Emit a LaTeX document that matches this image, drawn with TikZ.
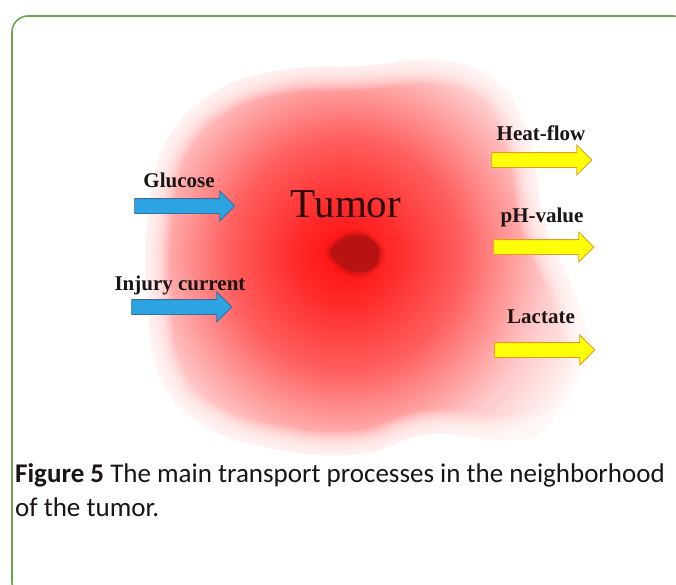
\documentclass[tikz,border=0pt]{standalone}
\usepackage{fontspec}
\setmainfont{Liberation Serif}
\newfontfamily\capfont{Carlito}
\usetikzlibrary{positioning,shapes.arrows}
\definecolor{frame}{HTML}{6BA547}
\definecolor{ink}{HTML}{1A1414}
\definecolor{tumink}{HTML}{2A0808}
\definecolor{bluefill}{HTML}{2CA4E2}
\definecolor{blueedge}{HTML}{3B6C9E}
\definecolor{yelfill}{HTML}{FFFF08}
\definecolor{yeledge}{HTML}{E49A20}
\definecolor{nucleus}{HTML}{B81212}
\definecolor{glowA}{RGB}{255,12,12}
\definecolor{glowB}{RGB}{255,45,45}
\definecolor{glowC}{RGB}{255,95,95}
\definecolor{glowD}{RGB}{255,200,200}
\definecolor{glowE}{RGB}{255,250,250}
\pgfdeclareradialshading{tumorglow}{\pgfpoint{0bp}{0bp}}{color(0bp)=(glowA);color(5bp)=(glowB);color(11bp)=(glowC);color(19bp)=(glowD);color(25bp)=(glowE)}

\begin{document}
\begin{tikzpicture}[
  x=1pt,y=-1pt,
  lbl/.style={font=\fontsize{21}{23}\selectfont\bfseries,text=ink,inner sep=0pt},
  flow/.style={single arrow,line width=0.8pt,inner sep=0pt,text height=14pt,text depth=0pt,
    minimum height=100pt,single arrow head extend=7.5pt},
  inarr/.style={flow,draw=blueedge,fill=bluefill},
  outarr/.style={flow,draw=yeledge,fill=yelfill},
  blobshape/.style={insert path={plot[smooth cycle,tension=0.7] coordinates {
    (215,92)(280,70)(360,66)(430,60)(480,70)(512,98)(532,150)(545,225)(575,295)(593,370)
    (578,422)(510,440)(430,434)(360,454)(280,450)(208,428)(162,382)(147,300)(149,210)(168,138)}}},
  caption/.style={font=\capfont\fontsize{27}{32}\selectfont,text=ink,inner sep=0pt,anchor=base west}
]
\useasboundingbox (0,0) rectangle (676,584);
\begin{scope}
  \clip (0,0) rectangle (676,584);
  \draw[frame,line width=1.6pt,rounded corners=16pt] (12,16) rectangle (689,598);
\end{scope}

% tumor glow
\coordinate (tumorC) at (345,255);
\begin{scope}
  \clip[blobshape];
  \shade[shading=tumorglow] (tumorC) circle (265);
\end{scope}
\foreach \i in {1,...,16}
  \draw[white,line width=3*\i pt,opacity=0.1,blobshape];
\foreach \i in {1,...,5}
  \fill[nucleus,opacity=0.12] plot[smooth cycle] coordinates {(330-\i,252)(345,237-\i)(365,236-\i)(379+\i,248)(377+\i,264)(365,272+\i)(345,269+\i)};
\fill[nucleus] plot[smooth cycle] coordinates {(330,252)(345,237)(365,236)(379,248)(377,264)(365,272)(345,269)};
\node[font=\fontsize{41}{45}\selectfont,text=tumink,inner sep=0pt,anchor=base] (tumor) at (346,217) {Tumor};

% inflow
\node[inarr] (glucoseArr) at (181,206) {};
\node[inarr] (injuryArr) at (178,307) {};
\node[lbl,anchor=base] (glucose) at (179,187) {Glucose};
\node[lbl,anchor=base] (injury) at (180,290) {Injury current};

% outflow
\node[outarr] (heatArr) at (538,160) {};
\node[outarr] (phArr) at (540,247) {};
\node[outarr] (lactArr) at (541,350) {};
\node[lbl,anchor=base] (heat) at (541,140) {Heat-flow};
\node[lbl,anchor=base] (ph) at (542,222) {pH-value};
\node[lbl,anchor=base] (lact) at (541,323) {Lactate};

\node[caption] (capA) at (15,482) {\textbf{Figure 5} The main transport processes in the neighborhood};
\node[caption] (capB) at (15,516) {of the tumor.};
\end{tikzpicture}
\end{document}
